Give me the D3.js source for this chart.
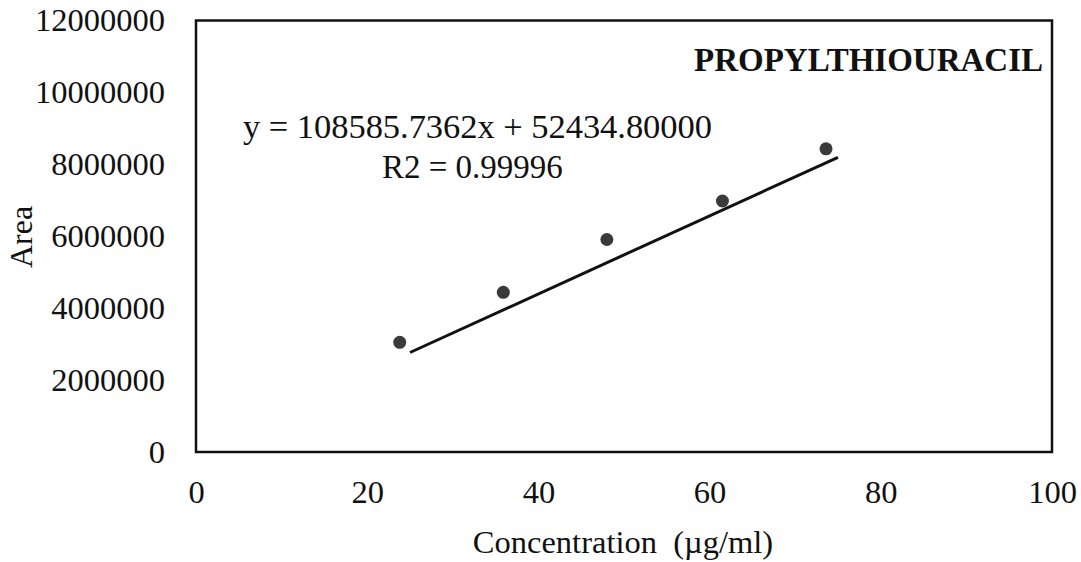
<!DOCTYPE html>
<html>
<head>
<meta charset="utf-8">
<script src="https://cdn.jsdelivr.net/npm/d3@7"></script>
<style>
  html, body { margin: 0; padding: 0; background: #fff; }
  svg { display: block; font-family: "Liberation Serif", "Times New Roman", serif; }
</style>
</head>
<body>
<svg id="chart" width="1081" height="562"></svg>
<script>
// Calibration data: concentration (µg/ml) vs. peak area
const concentration = [23.8, 35.9, 48.0, 61.5, 73.6];
const area = [3050000, 4440000, 5910000, 6980000, 8430000];

// Linear fit reported for the calibration
const slope = 108585.7362;
const intercept = 52434.80000;
const fitRange = [25, 75];

const xTicks = [0, 20, 40, 60, 80, 100];
const yTicks = [0, 2000000, 4000000, 6000000, 8000000, 10000000, 12000000];

const title = "PROPYLTHIOURACIL";
const equationText = "y = 108585.7362x + 52434.80000";
const r2Text = "R2 = 0.99996";
const xLabel = "Concentration\u00a0 (\u00b5g/ml)";
const yLabel = "Area";

const margin = { left: 196, right: 1081 - 1052, top: 20.5, bottom: 562 - 452 };
const W = 1081, H = 562;

const svg = d3.select("#chart");

const x = d3.scaleLinear().domain([0, 100]).range([margin.left, W - margin.right]);
const y = d3.scaleLinear().domain([0, 12000000]).range([H - margin.bottom, margin.top]);

// Axes: labels only, no tick marks
const xAxis = svg.append("g")
  .attr("transform", `translate(0,${H - margin.bottom})`)
  .call(d3.axisBottom(x).tickValues(xTicks).tickSize(0).tickPadding(28).tickFormat(d3.format("d")));
xAxis.select(".domain").remove();
xAxis.selectAll("text").attr("font-size", 32.5).attr("fill", "#111").attr("font-family", "Liberation Serif");

const yAxis = svg.append("g")
  .attr("transform", `translate(${margin.left},0)`)
  .call(d3.axisLeft(y).tickValues(yTicks).tickSize(0).tickPadding(31).tickFormat(d3.format("d")));
yAxis.select(".domain").remove();
yAxis.selectAll("text").attr("font-size", 32.5).attr("fill", "#111").attr("font-family", "Liberation Serif");

// Plot frame
svg.append("rect")
  .attr("x", x(0)).attr("y", y(12000000))
  .attr("width", x(100) - x(0)).attr("height", y(0) - y(12000000))
  .attr("fill", "none").attr("stroke", "#111").attr("stroke-width", 2.5);

// Trend line from the fitted equation
svg.append("line")
  .attr("x1", x(fitRange[0])).attr("y1", y(slope * fitRange[0] + intercept))
  .attr("x2", x(fitRange[1])).attr("y2", y(slope * fitRange[1] + intercept))
  .attr("stroke", "#111").attr("stroke-width", 3);

// Data points
svg.append("g").selectAll("circle")
  .data(concentration.map((c, i) => ({ c, a: area[i] })))
  .join("circle")
  .attr("cx", d => x(d.c)).attr("cy", d => y(d.a))
  .attr("r", 6.5).attr("fill", "#3a3a3a");

// Title and equation annotations
svg.append("text").attr("x", 1043).attr("y", 71).attr("text-anchor", "end")
  .attr("font-size", 33).attr("font-weight", "bold").attr("fill", "#111").text(title);

svg.append("text").attr("x", 243).attr("y", 138)
  .attr("font-size", 34.5).attr("textLength", 469).attr("fill", "#111").text(equationText);

svg.append("text").attr("x", 382).attr("y", 178)
  .attr("font-size", 33).attr("fill", "#111").text(r2Text);

// Axis titles
svg.append("text").attr("x", 623).attr("y", 553).attr("text-anchor", "middle")
  .attr("font-size", 32.5).attr("fill", "#111").text(xLabel);

svg.append("text").attr("transform", "translate(32,237) rotate(-90)").attr("text-anchor", "middle")
  .attr("font-size", 32).attr("fill", "#111").text(yLabel);
</script>
</body>
</html>
